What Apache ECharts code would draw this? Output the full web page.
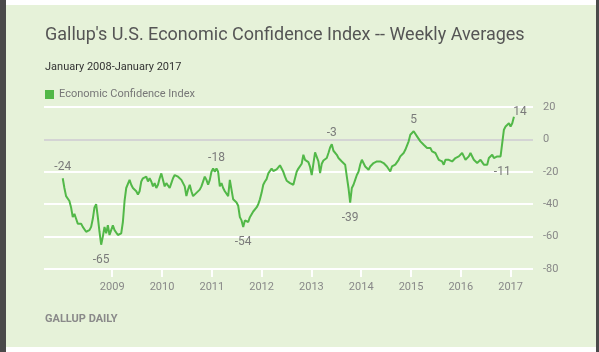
<!DOCTYPE html>
<html>
<head>
<meta charset="utf-8">
<script src="https://cdn.jsdelivr.net/npm/echarts@6/dist/echarts.min.js"></script>
<style>
  html, body { margin: 0; padding: 0; background: #ffffff; }
  #frameL { position: absolute; left: 0; top: 0; width: 6px; height: 352px; background: #4a4a4a; }
  #frameR { position: absolute; left: 596px; top: 0; width: 3px; height: 352px; background: #4a4a4a; }
  #panel { position: absolute; left: 6px; top: 5px; width: 590px; height: 342px; background: #e6f2d9; }
  #main { position: absolute; left: 0; top: 0; width: 599px; height: 352px; }
</style>
</head>
<body>
<div id="frameL"></div><div id="frameR"></div><div id="panel"></div>
<div id="main"></div>
<script>
// ---- data ----
const titleText = "Gallup's U.S. Economic Confidence Index -- Weekly Averages";
const subtitleText = "January 2008-January 2017";
const seriesName = "Economic Confidence Index";
const sourceText = "GALLUP DAILY";

// sampled readings, first point in the first week of January 2008, spaced evenly (~12 days)
const startYear = 2008.006;
const stepYears = 0.03356;
const values = [
  -24, -30, -35, -35, -38, -42, -48, -46, -49, -52,
  -51, -52, -54, -55, -57, -58, -56, -54, -49, -42,
  -40, -48, -57, -65, -60, -54, -58, -53, -59, -56,
  -53, -56, -57, -59, -58, -58, -51, -38, -30, -30,
  -25, -28, -30, -31, -32, -34, -32, -26, -24, -25,
  -23, -26, -24, -26, -29, -27, -30, -28, -24, -21,
  -20, -29, -27, -28, -30, -27, -24, -22, -21, -23,
  -22, -25, -25, -29, -35, -31, -28, -32, -35, -36,
  -33, -32, -31, -29, -28, -23, -25, -28, -25, -20,
  -18, -20, -18, -20, -29, -27, -30, -32, -31, -35,
  -25, -26, -37, -38, -39, -41, -48, -50, -54, -50,
  -51, -51, -48, -47, -44.5, -43.5, -42, -40, -37, -33,
  -28, -26, -24.5, -21, -21.5, -18, -19.5, -20, -18.5, -19.5,
  -16, -16, -20, -23, -25.5, -24.5, -27, -26, -28, -27,
  -20, -18, -17, -15, -9.5, -12.6, -11.5, -14, -17, -22,
  -15, -8, -9, -13.6, -20.8, -15, -13, -14, -11.5, -8.4,
  -5, -3, -7, -6, -9.5, -11.5, -12, -13.6, -14.6, -15.6,
  -23, -30, -39, -30, -28, -25, -22, -20, -15.6, -12.6,
  -13.6, -16.7, -17.7, -18.7, -16.7, -17.7, -14.6, -15.6, -13.6, -14.6,
  -13.6, -12.6, -14.6, -15.6, -16.7, -15.6, -19.8, -16.7, -16.7, -15.6,
  -15.6, -12.6, -10.5, -11.5, -8.4, -6.4, -7.4, -1.2, 2.9, 4,
  5, 4, 1.9, 0.9, -1.2, -2.2, -3.3, -2.2, -5.3, -6.4,
  -5.3, -7.4, -7.4, -8.4, -10.5, -12.6, -11.5, -13.6, -15.6, -12.6,
  -13.6, -12.6, -12.6, -13.6, -12.6, -11.5, -12.6, -10.5, -11.5, -8.4,
  -10.5, -12.6, -11.5, -10.5, -8.4, -9.5, -12.6, -13.6, -14.6, -13.6,
  -12.6, -11.5, -15.6, -16.7, -15.6, -11.5, -10.5, -9.5, -11.5, -10.5,
  -10.5, -11.5, -10.5, -11, 6, 8, 9, 10, 8, 10,
  14
];

// annotated points: index into values, label text, placement
const labelIdx = [0, 23, 92, 108, 161, 172, 210, 263, 270];
const labelText = ["-24", "-65", "-18", "-54", "-3", "-39", "5", "-11", "14"];
const labelPos = ["top", "bottom", "top", "bottom", "top", "bottom", "top", "bottom", "topright"];

// axis ticks
const yearTicks = [2009, 2010, 2011, 2012, 2013, 2014, 2015, 2016, 2017];
const xMin = 2007.63, xMax = 2017.45;
const yMin = -80, yMax = 20, yStep = 20;

// ---- build ----
const lineColor = '#52b848';
const seriesData = values.map((v, i) => [startYear + i * stepYears, v]);

const markData = labelIdx.map((idx, j) => {
  const p = labelPos[j];
  let label;
  if (p === 'top') label = { position: 'top', distance: 5 };
  else if (p === 'bottom') label = { position: 'bottom', distance: 9 };
  else label = { position: 'top', distance: 5, offset: [6, 6] };
  return {
    coord: seriesData[idx],
    value: labelText[j],
    label: Object.assign({ show: true, formatter: labelText[j], color: '#7a7a7a', fontSize: 12, fontFamily: 'Roboto' }, label)
  };
});

const chart = echarts.init(document.getElementById('main'), null, { renderer: 'canvas' });
chart.setOption({
  backgroundColor: 'transparent',
  animation: false,
  textStyle: { fontFamily: 'Roboto' },
  title: [
    { text: titleText, left: 45, top: 26, padding: 0,
      textStyle: { fontSize: 18, fontWeight: 'normal', color: '#555555', fontFamily: 'Roboto' } },
    { text: subtitleText, left: 45, top: 62, padding: 0,
      textStyle: { fontSize: 11, fontWeight: 'normal', color: '#333333', fontFamily: 'Roboto' } },
    { text: sourceText, left: 45, top: 314, padding: 0,
      textStyle: { fontSize: 11, fontWeight: 'bold', color: '#8a8a8a', fontFamily: 'Roboto' } }
  ],
  legend: {
    left: 45, top: 89, padding: 0, icon: 'rect', itemWidth: 9, itemHeight: 9,
    data: [seriesName],
    textStyle: { fontSize: 11, color: '#777777', fontFamily: 'Roboto' }
  },
  grid: { left: 44, right: 66, top: 107, bottom: 83, containLabel: false },
  xAxis: {
    type: 'value', min: xMin, max: xMax,
    axisLine: { show: false, onZero: false },
    splitLine: { show: false },
    axisTick: { show: true, customValues: yearTicks, length: 8, lineStyle: { color: '#ffffff', width: 2 } },
    axisLabel: { show: true, customValues: yearTicks, margin: 13, fontSize: 11, color: '#888888',
      formatter: v => String(Math.round(v)) }
  },
  yAxis: {
    type: 'value', position: 'right', min: yMin, max: yMax, interval: yStep,
    axisLine: { show: false, onZero: false },
    axisTick: { show: false },
    axisLabel: { margin: 10, fontSize: 11, color: '#888888' },
    splitLine: { show: true, lineStyle: { color: ['#ffffff', '#ffffff', '#ffffff', '#ffffff', '#d4d4d4', '#ffffff'], width: 2 } }
  },
  series: [{
    name: seriesName,
    type: 'line',
    data: seriesData,
    showSymbol: false,
    symbol: 'none',
    color: lineColor,
    lineStyle: { color: lineColor, width: 2 },
    markPoint: { symbol: 'circle', symbolSize: 0, silent: true, data: markData }
  }]
});
</script>
</body>
</html>
